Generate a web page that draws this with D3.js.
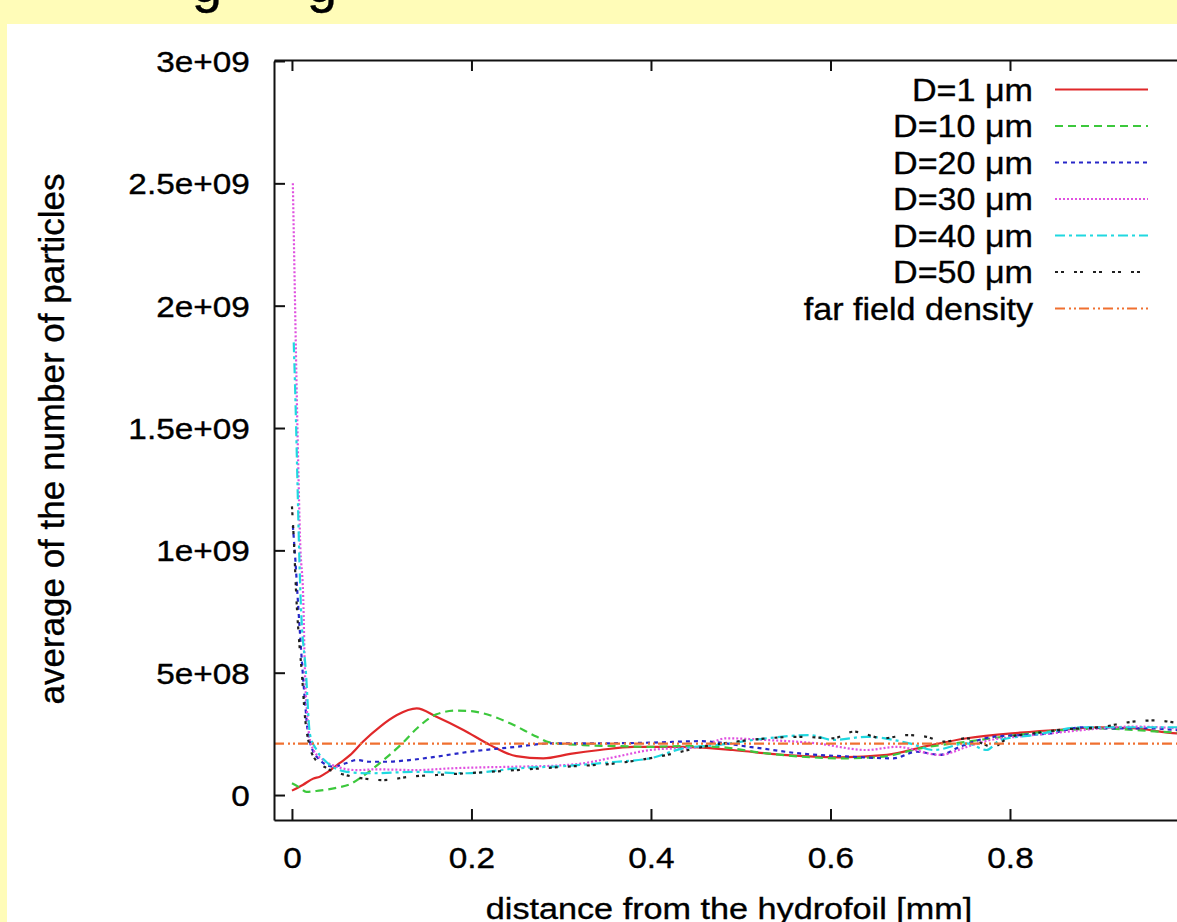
<!DOCTYPE html>
<html>
<head>
<meta charset="utf-8">
<script src="https://cdn.jsdelivr.net/npm/d3@7"></script>
<style>
  body { margin: 0; background: #fffcb8; }
  svg { display: block; }
  text { font-family: "Liberation Sans", Arial, Helvetica, sans-serif; fill: #000; stroke: #000; stroke-width: 0.35px; }
</style>
</head>
<body>
<svg id="chart" width="1177" height="922"></svg>
<script>
// values: [distance mm, average number of particles]
const d1 = [[0, 1.8e7], [0.012, 4.1e7], [0.024, 6.8e7], [0.031, 7.5e7], [0.04, 9.5e7], [0.053, 1.3e8],
  [0.065, 1.64e8], [0.079, 2.18e8], [0.098, 2.79e8], [0.117, 3.27e8], [0.139, 3.54e8], [0.161, 3.2e8],
  [0.191, 2.66e8], [0.221, 2.04e8], [0.25, 1.59e8], [0.28, 1.5e8], [0.31, 1.68e8], [0.343, 1.84e8],
  [0.38, 1.97e8], [0.436, 1.97e8], [0.491, 1.84e8], [0.547, 1.64e8], [0.61, 1.54e8], [0.663, 1.64e8],
  [0.707, 2.0e8], [0.752, 2.32e8], [0.811, 2.55e8], [0.863, 2.69e8], [0.9, 2.77e8], [0.937, 2.73e8],
  [0.986, 2.52e8], [1.0, 2.5e8]];

const d10 = [[0, 4.8e7], [0.008, 3.2e7], [0.016, 1.3e7], [0.03, 1.8e7], [0.05, 3.0e7], [0.065, 4.5e7],
  [0.08, 8.0e7], [0.102, 1.43e8], [0.124, 2.15e8], [0.14, 2.75e8], [0.161, 3.3e8], [0.183, 3.45e8],
  [0.2, 3.43e8], [0.213, 3.34e8], [0.243, 2.93e8], [0.273, 2.38e8], [0.287, 2.15e8], [0.325, 2.04e8],
  [0.362, 2.0e8], [0.399, 1.97e8], [0.436, 2.0e8], [0.473, 1.97e8], [0.529, 1.7e8], [0.614, 1.5e8],
  [0.659, 1.57e8], [0.7, 1.91e8], [0.752, 2.18e8], [0.807, 2.45e8], [0.863, 2.66e8], [0.9, 2.72e8],
  [0.986, 2.56e8], [1.0, 2.55e8]];

const d20 = [[0.001, 1.1e9], [0.004, 9.5e8], [0.0065, 8e8], [0.012, 5e8], [0.015, 3.6e8], [0.018, 2.5e8],
  [0.0275, 1.57e8], [0.046, 1.16e8], [0.06, 1.3e8], [0.072, 1.43e8], [0.087, 1.36e8], [0.105, 1.36e8],
  [0.131, 1.43e8], [0.161, 1.57e8], [0.198, 1.77e8], [0.25, 1.97e8], [0.287, 2.11e8], [0.325, 2.11e8],
  [0.399, 2.14e8], [0.455, 2.2e8], [0.51, 1.97e8], [0.566, 1.7e8], [0.622, 1.57e8], [0.67, 1.5e8],
  [0.696, 1.77e8], [0.722, 1.64e8], [0.744, 1.97e8], [0.781, 2.38e8], [0.811, 2.45e8], [0.845, 2.52e8],
  [0.881, 2.77e8], [0.918, 2.72e8], [0.955, 2.73e8], [0.986, 2.66e8], [1.0, 2.65e8]];

const d30 = [[0.001, 2.5e9], [0.003, 2.1e9], [0.005, 1.7e9], [0.007, 1.35e9], [0.009, 1.05e9], [0.0126, 8e8],
  [0.0145, 5e8], [0.017, 3.3e8], [0.019, 2.5e8], [0.024, 1.84e8], [0.035, 1.43e8], [0.05, 1.16e8],
  [0.072, 1.02e8], [0.094, 1.05e8], [0.139, 1.02e8], [0.176, 1.09e8], [0.25, 1.16e8], [0.287, 1.19e8],
  [0.325, 1.3e8], [0.362, 1.57e8], [0.399, 1.84e8], [0.455, 1.97e8], [0.484, 2.32e8], [0.529, 2.25e8],
  [0.585, 2.11e8], [0.64, 1.84e8], [0.674, 1.97e8], [0.722, 1.64e8], [0.752, 1.97e8], [0.778, 2.25e8],
  [0.807, 2.38e8], [0.845, 2.52e8], [0.9, 2.72e8], [0.937, 2.8e8], [0.986, 2.73e8], [1.0, 2.7e8]];

const d40 = [[0.002, 1.85e9], [0.004, 1.6e9], [0.006, 1.3e9], [0.008, 1.0e9], [0.0097, 8e8], [0.0156, 5e8],
  [0.02, 2.5e8], [0.0275, 1.84e8], [0.04, 1.3e8], [0.061, 9.5e7], [0.087, 8.9e7], [0.139, 9.5e7],
  [0.195, 8.9e7], [0.25, 1.09e8], [0.306, 1.19e8], [0.362, 1.36e8], [0.399, 1.5e8], [0.436, 1.91e8],
  [0.473, 2.04e8], [0.529, 2.32e8], [0.577, 2.45e8], [0.603, 2.25e8], [0.64, 2.38e8], [0.688, 2.11e8],
  [0.715, 1.84e8], [0.752, 2.11e8], [0.774, 1.84e8], [0.789, 2.25e8], [0.826, 2.45e8], [0.881, 2.77e8],
  [0.937, 2.77e8], [0.986, 2.77e8], [1.0, 2.75e8]];

const d50 = [[0, 1.18e9], [0.002, 1.05e9], [0.005, 8e8], [0.008, 6.3e8], [0.011, 5e8], [0.0145, 3.2e8],
  [0.019, 2.1e8], [0.024, 1.57e8], [0.039, 1.09e8], [0.053, 8.9e7], [0.079, 6.8e7], [0.102, 6.1e7],
  [0.131, 7.5e7], [0.161, 8.2e7], [0.195, 8.9e7], [0.25, 1.02e8], [0.306, 1.16e8], [0.362, 1.3e8],
  [0.418, 1.64e8], [0.455, 1.95e8], [0.51, 2.25e8], [0.566, 2.38e8], [0.603, 2.32e8], [0.626, 2.59e8],
  [0.659, 2.32e8], [0.685, 2.45e8], [0.707, 2.38e8], [0.726, 2.18e8], [0.752, 2.32e8], [0.781, 1.97e8],
  [0.8, 2.38e8], [0.826, 2.52e8], [0.863, 2.69e8], [0.9, 2.77e8], [0.937, 3.0e8], [0.963, 3.05e8],
  [0.986, 2.95e8], [1.0, 2.9e8]];

const farField = [[-0.02, 2.1e8], [1.0, 2.1e8]];

const labels = ["D=1 \u03bcm", "D=10 \u03bcm", "D=20 \u03bcm", "D=30 \u03bcm", "D=40 \u03bcm", "D=50 \u03bcm", "far field density"];
const colors = ["#e0282a", "#3cc83c", "#2828c8", "#e050e0", "#20d8e0", "#202020", "#f07030"];
const dashes = ["none", "8,5", "4,4", "2,2", "10,4,3,4", "3,3,3,10", "10,4,2,3,2,3"];
const xTicks = [0, 0.2, 0.4, 0.6, 0.8, 1.0];
const yTicks = [0, 5e8, 1e9, 1.5e9, 2e9, 2.5e9, 3e9];

const series = [d1, d10, d20, d30, d40, d50, farField];

const svg = d3.select("#chart");

// slide title, only the bottom of it is inside the crop
svg.append("text").attr("x", 207).attr("y", 2).attr("text-anchor", "middle")
  .style("font-size", "54px").text("g");
svg.append("text").attr("x", 322).attr("y", 2).attr("text-anchor", "middle")
  .style("font-size", "54px").text("g");

svg.append("rect").attr("x", 7).attr("y", 24).attr("width", 1170).attr("height", 898).attr("fill", "#fff");

const pLeft = 274, pRight = 1189.5, pTop = 61, pBottom = 820;
const x = d3.scaleLinear().domain([-0.02, 1.0]).range([pLeft, pRight]);
const y = d3.scaleLinear().domain([-1.02e8, 3e9]).range([pBottom, pTop]);

function gnuFmt(v) {
  if (v === 0) return "0";
  return v.toExponential().replace(/e\+(\d)$/, "e+0$1");
}

svg.append("clipPath").attr("id", "plotClip")
  .append("rect").attr("x", pLeft).attr("y", pTop - 1)
  .attr("width", pRight - pLeft).attr("height", pBottom - pTop + 1);

const line = d3.line().x(d => x(d[0])).y(d => y(d[1])).curve(d3.curveMonotoneX);

svg.append("g").attr("clip-path", "url(#plotClip)")
  .selectAll("path")
  .data(series)
  .join("path")
  .attr("d", line)
  .attr("fill", "none")
  .attr("stroke", (d, i) => colors[i])
  .attr("stroke-width", 2.2)
  .attr("stroke-dasharray", (d, i) => dashes[i]);

// axes with inward ticks on all four sides (gnuplot style)
// the "1" label sits past the right edge of the crop, so it is left blank
const gx = svg.append("g").attr("transform", `translate(0,${pBottom})`)
  .call(d3.axisBottom(x).tickValues(xTicks).tickSize(-11).tickSizeOuter(0).tickPadding(27)
    .tickFormat(d => d >= 1 ? "" : String(+d.toFixed(1))));
const gy = svg.append("g").attr("transform", `translate(${pLeft},0)`)
  .call(d3.axisLeft(y).tickValues(yTicks).tickSize(-11).tickSizeOuter(0).tickPadding(21).tickFormat(gnuFmt));
svg.append("g").attr("transform", `translate(0,${pTop - 1})`)
  .call(d3.axisTop(x).tickValues(xTicks).tickSize(-11).tickSizeOuter(0).tickFormat(""));
svg.append("g").attr("transform", `translate(${pRight},0)`)
  .call(d3.axisRight(y).tickValues(yTicks).tickSize(-11).tickSizeOuter(0).tickFormat(""));

svg.selectAll(".domain").attr("stroke", "#111").attr("stroke-width", 2);
svg.selectAll(".tick line").attr("stroke", "#111").attr("stroke-width", 2);
svg.selectAll(".tick text")
  .attr("font-family", null)
  .style("font-size", "29px")
  .attr("transform", "scale(1.15,1)");
gy.selectAll(".tick text").attr("dy", "0.36em");

// axis titles
svg.append("text")
  .attr("transform", "translate(729,919) scale(1.14,1)")
  .attr("text-anchor", "middle")
  .style("font-size", "30px")
  .text("distance from the hydrofoil [mm]");

svg.append("text")
  .attr("transform", "translate(64,439) rotate(-90)")
  .attr("text-anchor", "middle")
  .style("font-size", "35px")
  .text("average of the number of particles");

// key, top right
const key = svg.append("g");
labels.forEach((label, i) => {
  const ky = 89.5 + i * 36.5;
  key.append("text")
    .attr("transform", `translate(1033,${ky + 11}) scale(1.1,1)`)
    .attr("text-anchor", "end")
    .style("font-size", "31px")
    .text(label);
  key.append("line")
    .attr("x1", 1055).attr("x2", 1148)
    .attr("y1", ky).attr("y2", ky)
    .attr("stroke", colors[i])
    .attr("stroke-width", 2.2)
    .attr("stroke-dasharray", dashes[i]);
});
</script>
</body>
</html>
